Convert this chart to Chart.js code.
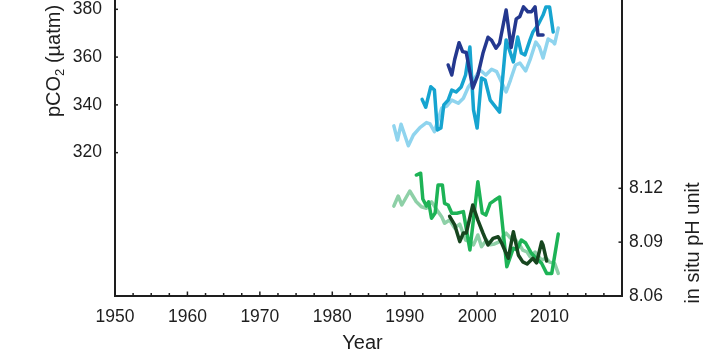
<!DOCTYPE html>
<html>
<head>
<meta charset="utf-8">
<script src="https://cdn.jsdelivr.net/npm/chart.js@4.4.0/dist/chart.umd.min.js"></script>
<style>
    html, body { margin: 0; padding: 0; background: #fff; }
    #wrap { width: 707px; height: 354px; }
</style>
</head>
<body>
<div id="wrap"><canvas id="chart" width="707" height="354"></canvas></div>
<script>
// pCO2 series (µatm)
const paleBlueYears = [1988.5, 1989.0, 1989.5, 1990.5, 1991.2, 1992.1, 1993.0, 1993.5, 1994.1, 1995.1, 1995.8, 1996.5, 1997.4, 1998.1, 1998.8, 1999.5, 2000.4, 2001.2, 2002.0, 2002.7, 2004.0, 2004.6, 2005.3, 2005.9, 2006.7, 2007.3, 2008.1, 2008.6, 2009.1, 2009.8, 2010.5, 2010.7, 2011.2];
const paleBluePco2 = [331.2, 325.3, 331.9, 322.9, 327.4, 330.5, 332.6, 332.0, 328.8, 338.6, 339.5, 342.0, 340.7, 342.8, 347.6, 350.4, 354.6, 352.5, 354.9, 353.9, 345.4, 350.4, 356.7, 357.5, 354.2, 358.8, 366.3, 364.2, 359.6, 367.6, 366.3, 365.5, 372.2];

const cyanYears = [1992.4, 1992.9, 1993.6, 1994.1, 1994.5, 1995.0, 1995.4, 1996.0, 1996.5, 1997.1, 1997.8, 1998.4, 1999.0, 1999.5, 2000.0, 2000.6, 2001.1, 2001.8, 2003.1, 2004.0, 2005.0, 2005.6, 2006.1, 2006.6, 2007.3, 2007.7, 2008.4, 2009.1, 2009.5, 2010.0, 2010.5];
const cyanPco2 = [342.3, 339.0, 347.6, 346.2, 329.5, 330.3, 340.0, 342.0, 346.2, 345.4, 347.5, 352.5, 364.2, 337.9, 330.3, 351.3, 350.4, 342.0, 337.0, 367.2, 358.0, 368.4, 361.7, 360.9, 367.2, 370.5, 373.4, 377.6, 381.0, 381.0, 370.5];

const navyYears = [1996.0, 1996.5, 1996.9, 1997.5, 1998.0, 1998.5, 1999.4, 2000.1, 2000.8, 2001.5, 2002.0, 2002.6, 2003.1, 2004.0, 2004.7, 2005.4, 2005.9, 2006.4, 2007.0, 2007.5, 2008.0, 2008.4, 2009.1];
const navyPco2 = [356.7, 352.5, 359.0, 366.0, 362.3, 361.9, 347.0, 352.5, 361.6, 368.3, 367.0, 363.7, 365.8, 379.7, 364.0, 376.0, 377.0, 381.0, 379.0, 379.0, 381.0, 369.2, 369.2];

// pH series (in situ)
const paleGreenYears = [1988.5, 1989.1, 1989.6, 1990.7, 1991.6, 1992.3, 1993.0, 1993.7, 1994.6, 1995.1, 1995.5, 1996.2, 1996.9, 1997.6, 1998.4, 1999.0, 1999.5, 2000.1, 2000.6, 2001.3, 2001.8, 2002.4, 2003.1, 2003.6, 2004.0, 2004.6, 2005.3, 2005.9, 2006.3, 2006.9, 2007.3, 2008.0, 2008.9, 2009.5, 2010.0, 2010.7, 2011.2];
const paleGreenPh = [8.1101, 8.1157, 8.1107, 8.1185, 8.1125, 8.1097, 8.1089, 8.1125, 8.1070, 8.1042, 8.1005, 8.1023, 8.0979, 8.1000, 8.0912, 8.0903, 8.0885, 8.0940, 8.0875, 8.0912, 8.0885, 8.0890, 8.0903, 8.0935, 8.0950, 8.0923, 8.0912, 8.0884, 8.0856, 8.0845, 8.0819, 8.0845, 8.0800, 8.0812, 8.0789, 8.0782, 8.0726];

const greenYears = [1991.6, 1992.2, 1992.5, 1993.0, 1993.3, 1993.7, 1994.2, 1994.6, 1995.2, 1995.5, 1996.0, 1996.5, 1997.2, 1998.1, 1999.0, 2000.1, 2000.7, 2001.2, 2001.8, 2002.4, 2003.1, 2004.1, 2005.0, 2005.5, 2006.1, 2006.7, 2007.5, 2008.1, 2008.9, 2009.6, 2010.3, 2011.2];
const greenPh = [8.1274, 8.1284, 8.1140, 8.1101, 8.1125, 8.1033, 8.1062, 8.1218, 8.1218, 8.1116, 8.1107, 8.1061, 8.1061, 8.1070, 8.0856, 8.1237, 8.1062, 8.1051, 8.1116, 8.1133, 8.1151, 8.0763, 8.0866, 8.0856, 8.0912, 8.0895, 8.0838, 8.0812, 8.0782, 8.0726, 8.0726, 8.0945];

const darkGreenYears = [1996.2, 1996.9, 1997.6, 1998.1, 1998.5, 1999.4, 2000.1, 2000.8, 2001.5, 2002.2, 2002.9, 2003.4, 2004.3, 2005.0, 2005.7, 2006.3, 2006.9, 2007.7, 2008.2, 2008.9, 2009.1, 2009.6];
const darkGreenPh = [8.1044, 8.0996, 8.0903, 8.0951, 8.0951, 8.1107, 8.1023, 8.0951, 8.0884, 8.0921, 8.0930, 8.0894, 8.0810, 8.0958, 8.0827, 8.0790, 8.0778, 8.0810, 8.0784, 8.0901, 8.0884, 8.0795];

const yearLabels = [1950, 1960, 1970, 1980, 1990, 2000, 2010];
const pco2Ticks = [320, 340, 360, 380];
const phTicks = [8.06, 8.09, 8.12];

const FONT = '"Liberation Sans", Arial, sans-serif';
const INK = "#1e1e1e";

function toPoints(xs, ys) {
    return xs.map((x, i) => ({ x: x, y: ys[i] }));
}

function line(ctx, x1, y1, x2, y2) {
    ctx.beginPath();
    ctx.moveTo(x1, y1);
    ctx.lineTo(x2, y2);
    ctx.stroke();
}

// short inward tick marks like the original figure
const innerTicks = {
    id: "innerTicks",
    afterDraw(chart) {
        const { ctx, chartArea: a, scales } = chart;
        ctx.save();
        ctx.strokeStyle = INK;
        ctx.lineWidth = 1.5;
        for (let v = 1950; v <= 2020; v += 2.5) {
            const px = scales.x.getPixelForValue(v);
            line(ctx, px, a.bottom, px, a.bottom - (v % 10 === 0 ? 4.5 : 3));
        }
        pco2Ticks.forEach((v) => {
            const py = scales.y.getPixelForValue(v);
            line(ctx, a.left - 1, py, a.left + 3, py);
        });
        phTicks.forEach((v) => {
            const py = scales.y2.getPixelForValue(v);
            line(ctx, a.right, py, a.right - 3.5, py);
        });
        ctx.restore();
    },
};

// axis titles, placed as in the cropped figure
const axisTitles = {
    id: "axisTitles",
    afterDraw(chart) {
        const { ctx, chartArea: a } = chart;
        ctx.save();
        ctx.fillStyle = INK;
        ctx.font = "20px " + FONT;
        ctx.textAlign = "center";
        ctx.textBaseline = "middle";
        ctx.fillText("Year", (a.left + a.right) / 2 - 6, 343);

        // pCO2 (µatm), reading upward
        ctx.save();
        ctx.translate(60, 117);
        ctx.rotate(-Math.PI / 2);
        ctx.textAlign = "left";
        ctx.textBaseline = "alphabetic";
        ctx.font = "20px " + FONT;
        let x = 0;
        ctx.fillText("pCO", x, 0);
        x += ctx.measureText("pCO").width;
        ctx.font = "13px " + FONT;
        ctx.fillText("2", x, 4);
        x += ctx.measureText("2").width;
        ctx.font = "20px " + FONT;
        ctx.fillText(" (µatm)", x, 0);
        ctx.restore();

        ctx.save();
        ctx.translate(699, 243);
        ctx.rotate(-Math.PI / 2);
        ctx.textAlign = "center";
        ctx.textBaseline = "alphabetic";
        ctx.fillText("in situ pH unit", 0, 0);
        ctx.restore();

        ctx.restore();
    },
};

function makeSet(label, xs, ys, color, axis) {
    return {
        label: label,
        data: toPoints(xs, ys),
        yAxisID: axis,
        borderColor: color,
        backgroundColor: color,
        borderWidth: 3.5,
        pointRadius: 0,
        tension: 0,
        borderJoinStyle: "round",
        borderCapStyle: "round",
    };
}

const tickFont = { family: FONT, size: 17.5 };

new Chart(document.getElementById("chart"), {
    type: "line",
    data: {
        datasets: [
            makeSet("pCO2 navy", navyYears, navyPco2, "#24388f", "y"),
            makeSet("pCO2 cyan", cyanYears, cyanPco2, "#16a4d0", "y"),
            makeSet("pCO2 pale", paleBlueYears, paleBluePco2, "#8fd4ee", "y"),
            makeSet("pH dark", darkGreenYears, darkGreenPh, "#17461f", "y2"),
            makeSet("pH green", greenYears, greenPh, "#1db356", "y2"),
            makeSet("pH pale", paleGreenYears, paleGreenPh, "#8ed0a7", "y2"),
        ],
    },
    options: {
        responsive: false,
        animation: false,
        devicePixelRatio: 1,
        layout: { padding: 0 },
        plugins: {
            legend: { display: false },
            tooltip: { enabled: false },
        },
        scales: {
            x: {
                type: "linear",
                min: 1950,
                max: 2020,
                grid: { display: false, drawTicks: false },
                border: { display: true, color: INK, width: 2 },
                afterBuildTicks: (scale) => {
                    scale.ticks = yearLabels.map((v) => ({ value: v }));
                },
                afterFit: (scale) => {
                    scale.height = 58;
                    scale.paddingLeft = 0;
                    scale.paddingRight = 0;
                },
                ticks: {
                    color: INK,
                    font: tickFont,
                    padding: 11,
                    autoSkip: false,
                    maxRotation: 0,
                    callback: (v) => String(v),
                },
            },
            y: {
                type: "linear",
                position: "left",
                min: 260,
                max: 383.9,
                grid: { display: false, drawTicks: false },
                border: { display: true, color: INK, width: 2 },
                afterBuildTicks: (scale) => {
                    scale.ticks = pco2Ticks.map((v) => ({ value: v }));
                },
                afterFit: (scale) => {
                    scale.width = 115;
                    scale.paddingTop = 0;
                    scale.paddingBottom = 0;
                },
                ticks: { color: INK, font: tickFont, padding: 13, callback: (v) => String(v) },
            },
            y2: {
                type: "linear",
                position: "right",
                min: 8.06,
                max: 8.2249,
                grid: { display: false, drawTicks: false },
                border: { display: true, color: INK, width: 2 },
                afterBuildTicks: (scale) => {
                    scale.ticks = phTicks.map((v) => ({ value: v }));
                },
                afterFit: (scale) => {
                    scale.width = 85;
                    scale.paddingTop = 0;
                    scale.paddingBottom = 0;
                },
                ticks: { color: INK, font: tickFont, padding: 7, callback: (v) => v.toFixed(2) },
            },
        },
    },
    plugins: [innerTicks, axisTitles],
});
</script>
</body>
</html>
